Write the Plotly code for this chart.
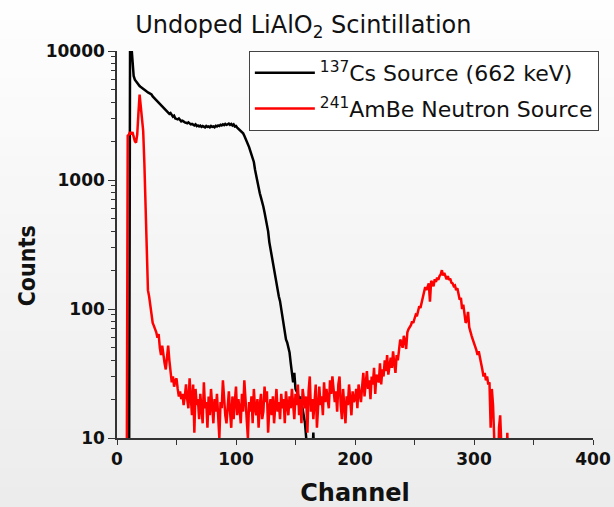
import plotly.graph_objects as go

# ---------------- data ----------------
cs_start = 9
cs_counts = [
    1, 1, 15000, 11000, 7200, 6400, 6000, 5800, 5600, 5450,          # 9-18
    5350, 5250, 5150, 5050, 4980, 4900, 4850, 4780, 4720, 4700,      # 19-28
    4600, 4450, 4350, 4250, 4170, 4050, 3950, 3850, 3750, 3680,      # 29-38
    3600, 3500, 3430, 3350, 3300, 3250, 3300, 3150, 3100, 3150,      # 39-48
    3000, 2980, 2950, 3000, 2900, 2850, 2880, 2820, 2800, 2780,      # 49-58
    2750, 2800, 2720, 2700, 2720, 2680, 2650, 2700, 2620, 2650,      # 59-68
    2600, 2640, 2580, 2620, 2600, 2560, 2620, 2580, 2600, 2560,      # 69-78
    2620, 2580, 2600, 2560, 2630, 2600, 2650, 2620, 2680, 2650,      # 79-88
    2700, 2660, 2720, 2680, 2700, 2740, 2680, 2720, 2650, 2700,      # 89-98
    2600, 2620, 2550, 2500, 2440, 2400, 2350, 2300, 2200, 2100,      # 99-108
    2000, 1920, 1800, 1680, 1560, 1450, 1380, 1200, 1060, 950,       # 109-118
    860, 790, 730, 680, 620, 560, 500, 460, 400, 330,                # 119-128
    290, 260, 240, 200, 180, 160, 140, 125, 115, 100,                # 129-138
    85, 72, 62, 58, 55, 50, 46, 38, 30, 27,                          # 139-148
    32, 24, 23, 22, 20, 21, 19, 17, 15, 13,                          # 149-158
    10, 8, 9, 6, 5, 7, 11, 6, 4,                                     # 159-167
]

ambe_start = 7
ambe_counts = [
    1, 1, 2200,                                                      # 7-9
    2250, 2350, 2250, 2350, 2150, 2000, 1950, 2250, 3300, 4600,      # 10-19
    3700, 2700, 2400, 1350, 700, 380, 140, 125, 105, 95,             # 20-29
    78, 74, 70, 66, 60, 64, 50, 44, 52, 42,                          # 30-39
    38, 34, 46, 52, 40, 33, 27, 30, 25, 28,                          # 40-49
    29, 24, 21, 23, 20, 22, 18, 21, 26, 20,                          # 50-59
    17, 29, 21, 15, 26, 11, 24, 18, 20, 14,                          # 60-69
    22, 16, 13, 27, 17, 19, 12, 21, 15, 24,                          # 70-79
    18, 13, 20, 16, 22, 14, 10, 19, 17, 28,                          # 80-89
    20, 15, 13, 18, 23, 16, 12, 21, 14, 19,                          # 90-99
    25, 15, 20, 17, 13, 22, 16, 28, 18, 14,                          # 100-109
    10, 19, 16, 21, 13, 24, 17, 15, 20, 12,                          # 110-119
    18, 22, 14, 16, 25, 19, 23, 11, 17, 20,                          # 120-129
    15, 21, 13, 18, 24, 16, 19, 14, 22, 17,                          # 130-139
    20, 13, 23, 18, 15, 21, 17, 24, 19, 14,                          # 140-149
    22, 18, 26, 15, 20, 13, 24, 19, 17, 21,                          # 150-159
    11, 23, 30, 16, 20, 14, 22, 26, 12, 19,                          # 160-169
    25, 18, 21, 15, 27, 19, 24, 20, 17, 28,                          # 170-179
    22, 30, 25, 19, 23, 16, 26, 30, 18, 14,                          # 180-189
    24, 16, 13, 21, 18, 26, 20, 15, 23, 19,                          # 190-199
    20, 24, 17, 26, 22, 19, 25, 32, 21, 27,                          # 200-209
    33, 24, 28, 20, 30, 26, 35, 22, 31, 29,                          # 210-219
    27, 38, 26, 34, 30, 40, 33, 44, 31, 36,                          # 220-229
    42, 35, 47, 38, 32, 44, 40, 48, 58, 55,                          # 230-239
    50, 62, 57, 49, 66, 70, 72, 75, 80, 78,                          # 240-249
    84, 90, 88, 96, 105, 102, 112, 120, 135, 148,                    # 250-259
    140, 152, 158, 114, 165, 160, 150, 170, 162, 175,                # 260-269
    168, 180, 185, 200, 182, 190, 178, 170, 180, 168,                # 270-279
    172, 160, 158, 150, 152, 140, 145, 130, 118, 122,                # 280-289
    100, 108, 88, 78, 82, 95, 72, 68, 62, 58,                        # 290-299
    55, 52, 48, 44, 47, 42, 36, 34, 30, 32,                          # 300-309
    28, 30, 26, 27, 12, 24, 18, 9, 5, 3,                             # 310-319
    4, 12, 15, 8, 4, 3, 6, 5, 11, 4,                                 # 320-329
]

cs_channels = list(range(cs_start, cs_start + len(cs_counts)))
ambe_channels = list(range(ambe_start, ambe_start + len(ambe_counts)))

x_ticks = [0, 100, 200, 300, 400]
y_ticks = [10, 100, 1000, 10000]
y_ticktext = ["10", "100", "1000", "10000"]
y_minor = [m * 10 ** e for e in (1, 2, 3) for m in range(2, 10)]

# ---------------- figure ----------------
fig = go.Figure()
fig.add_trace(go.Scatter(
    x=cs_channels, y=cs_counts, mode="lines",
    name="<sup>137</sup>Cs Source (662 keV)",
    line=dict(color="#000000", width=2.5), legendgroup="a",
))
fig.add_trace(go.Scatter(
    x=ambe_channels, y=ambe_counts, mode="lines",
    name="<sup>241</sup>AmBe Neutron Source",
    line=dict(color="#ff0000", width=2.5), legendgroup="b",
))

# soft vertical background gradient (light grey) built from paper-anchored bands
W, H, L, R, T, B = 614, 507, 117, 21, 51, 69
pw, ph = W - L - R, H - T - B
n_bands = 26
bands = []
for i in range(n_bands):
    top_px = H * i / n_bands
    bot_px = H * (i + 1) / n_bands + 0.5
    g = round(254 - (254 - 236) * (i + 0.5) / n_bands)
    bands.append(dict(
        type="rect", xref="paper", yref="paper", layer="below",
        x0=-L / pw - 0.01, x1=1 + R / pw + 0.01,
        y0=(H - B - bot_px) / ph, y1=(H - B - top_px) / ph,
        fillcolor=f"rgb({g},{g},{g})", line=dict(width=0),
    ))

axis_col = "#333333"
tick_font = dict(family="DejaVu Sans", size=17, color="#111111", weight="bold")

fig.update_layout(
    width=W, height=H,
    margin=dict(l=L, r=R, t=T, b=B, autoexpand=False),
    paper_bgcolor="#f4f4f4",
    plot_bgcolor="rgba(0,0,0,0)",
    showlegend=True,
    shapes=bands,
    title=dict(
        text="Undoped LiAlO<sub>2</sub> Scintillation",
        x=0.494, xanchor="center", y=0.952, yanchor="middle",
        font=dict(family="DejaVu Sans", size=24, color="#111111"),
    ),
    legend=dict(
        x=0.277, y=1.0, xanchor="left", yanchor="top",
        bgcolor="#ffffff", bordercolor="#444444", borderwidth=1,
        font=dict(family="DejaVu Sans", size=22, color="#111111"),
        tracegroupgap=4, itemwidth=60,
    ),
    xaxis=dict(
        range=[0, 400], tickvals=x_ticks, automargin=False,
        showgrid=False, zeroline=False,
        showline=True, linecolor=axis_col, linewidth=1.5,
        ticks="outside", ticklen=5, tickwidth=1.3, tickcolor=axis_col,
        minor=dict(dtick=50, ticks="outside", ticklen=5, tickwidth=1.3, tickcolor=axis_col),
        tickfont=tick_font,
        title=dict(text="Channel", standoff=20,
                   font=dict(family="DejaVu Sans", size=24, color="#111111", weight="bold")),
    ),
    yaxis=dict(
        type="log", range=[1, 4], automargin=False,
        tickvals=y_ticks, ticktext=y_ticktext,
        showgrid=False, zeroline=False,
        showline=True, linecolor=axis_col, linewidth=1.5,
        ticks="outside", ticklen=7, tickwidth=1.3, tickcolor=axis_col,
        minor=dict(tickvals=y_minor, ticks="outside", ticklen=4, tickwidth=1, tickcolor=axis_col),
        tickfont=tick_font,
    ),
    annotations=[dict(
        text="Counts", textangle=-90, showarrow=False,
        xref="paper", yref="paper", x=-0.19, y=0.445,
        xanchor="center", yanchor="middle",
        font=dict(family="DejaVu Sans Condensed, DejaVu Sans", size=23,
                  color="#111111", weight="bold"),
    )],
)

fig.write_html("out.html")
